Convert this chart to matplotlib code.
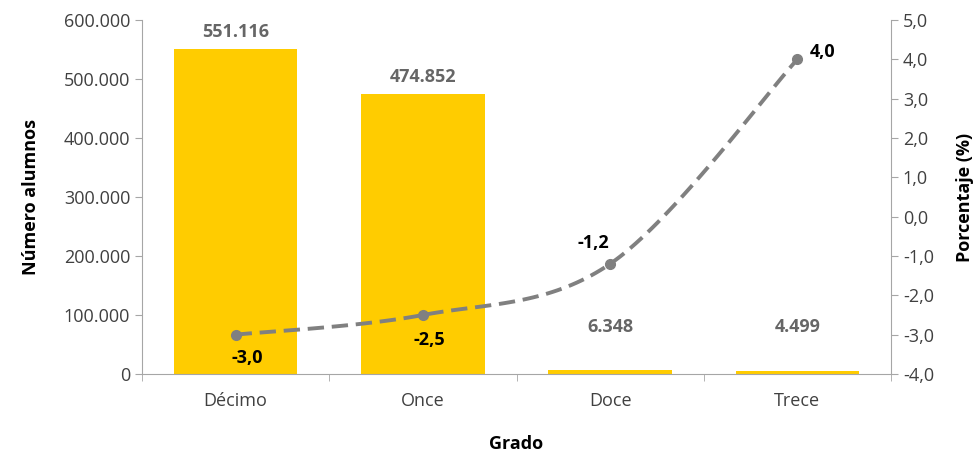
import matplotlib.pyplot as plt
import numpy as np
from matplotlib.ticker import FuncFormatter

plt.rcParams['font.family'] = ['Open Sans', 'DejaVu Sans']

grados = ['Décimo', 'Once', 'Doce', 'Trece']
alumnos = [551116, 474852, 6348, 4499]
porcentaje = [-3.0, -2.5, -1.2, 4.0]

# offsets (px) for the percentage labels
pct_offsets = [(12, -23), (6, -25), (-17, 21), (25, 7)]

bar_color = '#FFCC00'
line_color = '#808080'
axis_color = '#A6A6A6'

fig = plt.figure(figsize=(9.77, 4.53), dpi=100)
ax = fig.add_axes([142 / 977, 79 / 453, 749 / 977, 354 / 453])
ax2 = ax.twinx()

x = np.arange(len(grados))
ax.bar(x, alumnos, width=0.66, color=bar_color, zorder=2)
ax.set_xlim(-0.5, len(grados) - 0.5)
ax.set_ylim(0, 600000)
ax.set_yticks(np.arange(0, 600001, 100000))
ax.yaxis.set_major_formatter(FuncFormatter(lambda v, p: f'{int(v):,}'.replace(',', '.')))

for xi, v in zip(x, alumnos):
    ax.annotate(f'{v:,}'.replace(',', '.'), (xi, max(v, 50000)), xytext=(0, 6),
                textcoords='offset points', ha='center', va='bottom',
                fontsize=13, fontweight='bold', color='#666666')

# smooth line (Excel-like bezier through the points)
def smooth(xs, ys, n=40):
    pts = np.column_stack([xs, ys]).astype(float)
    ext = np.vstack([pts[0], pts, pts[-1]])
    out = []
    for i in range(1, len(ext) - 2):
        p0, p1, p2, p3 = ext[i - 1], ext[i], ext[i + 1], ext[i + 2]
        c1 = p1 + (p2 - p0) / 6
        c2 = p2 - (p3 - p1) / 6
        t = np.linspace(0, 1, n)[:, None]
        seg = (1 - t) ** 3 * p1 + 3 * (1 - t) ** 2 * t * c1 + 3 * (1 - t) * t ** 2 * c2 + t ** 3 * p2
        out.append(seg)
    out = np.vstack(out)
    return out[:, 0], out[:, 1]

sx, sy = smooth(x, porcentaje)
ax2.plot(sx, sy, color=line_color, linewidth=2.8, linestyle=(0, (4.2, 2.0)), zorder=3)
ax2.plot(x, porcentaje, 'o', color=line_color, markersize=7, zorder=4)
ax2.set_ylim(-4, 5)
ax2.set_yticks(np.arange(-4, 5.01, 1))
ax2.yaxis.set_major_formatter(FuncFormatter(lambda v, p: f'{v:.1f}'.replace('.', ',')))

for xi, v, (dx, dy) in zip(x, porcentaje, pct_offsets):
    ax2.annotate(f'{v:.1f}'.replace('.', ','), (xi, v), xytext=(dx * 0.72, dy * 0.72),
                 textcoords='offset points', ha='center', va='center',
                 fontsize=13, fontweight='bold', color='black')

ax.set_xticks(x)
ax.set_xticklabels(grados)
ax.set_xticks(np.arange(-0.5, len(grados), 1), minor=True)
ax.tick_params(axis='x', which='major', length=0, pad=13, labelsize=13, labelcolor='#404040')
ax.tick_params(axis='x', which='minor', length=5, color=axis_color)
ax.tick_params(axis='y', length=5, color=axis_color, labelsize=13, labelcolor='#404040')
ax2.tick_params(axis='y', length=5, color=axis_color, labelsize=13, labelcolor='#404040')

for a in (ax, ax2):
    a.spines['top'].set_visible(False)
    for s in ('left', 'right', 'bottom'):
        a.spines[s].set_color(axis_color)
ax.spines['right'].set_visible(False)
ax2.spines['left'].set_visible(False)
ax2.spines['bottom'].set_visible(False)

ax.set_ylabel('Número alumnos', fontsize=13, fontweight='bold', labelpad=17)
ax2.set_ylabel('Porcentaje (%)', fontsize=13, fontweight='bold', labelpad=16)
ax.set_xlabel('Grado', fontsize=13, fontweight='bold', labelpad=18)

fig.savefig('out.png', dpi=100)
